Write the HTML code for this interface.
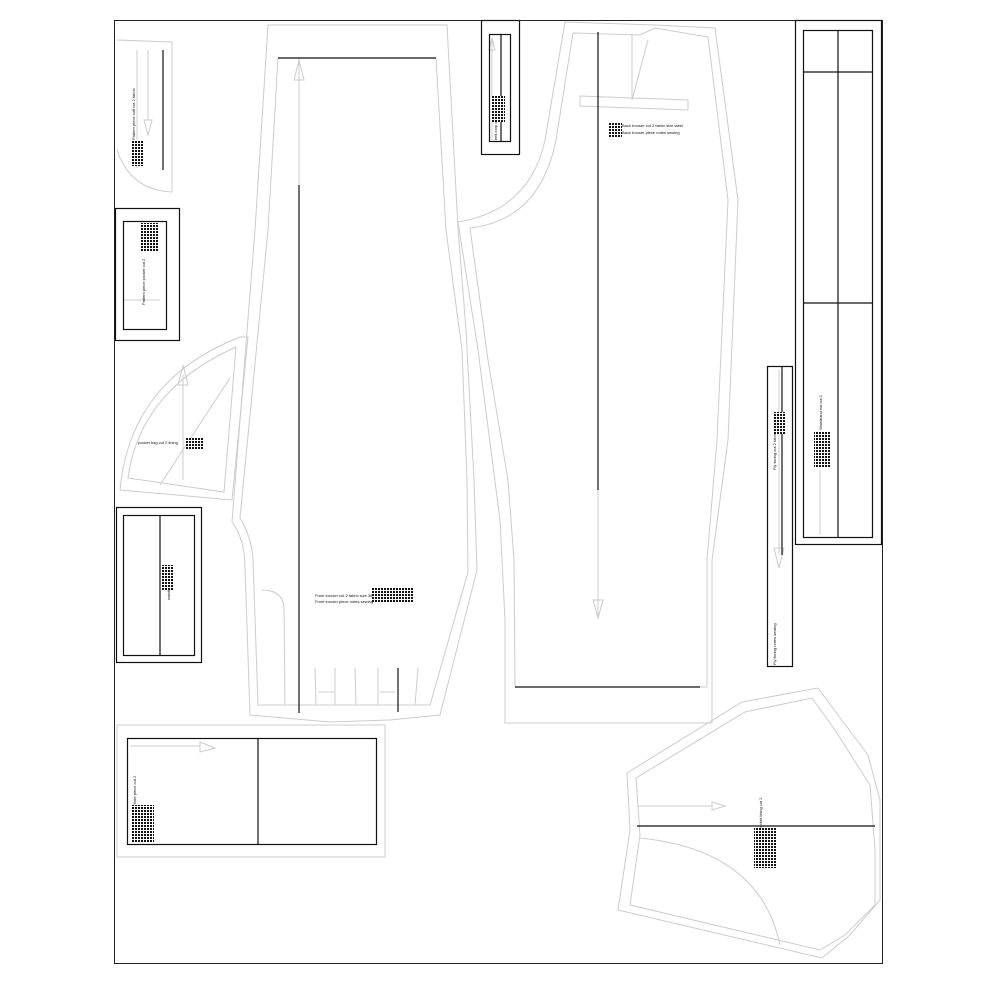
<!DOCTYPE html>
<html><head><meta charset="utf-8"><style>
html,body{margin:0;padding:0;background:#fff;width:1000px;height:983px;overflow:hidden}
svg{display:block}
text{font-family:"Liberation Sans",sans-serif;fill:#111}
</style></head><body>
<svg width="1000" height="983" viewBox="0 0 1000 983" xmlns="http://www.w3.org/2000/svg">
<defs>
<pattern id="spk" width="3" height="3" patternUnits="userSpaceOnUse">
<rect width="3" height="3" fill="#fff"/>
<rect width="2" height="2" fill="#111"/>
</pattern>
</defs>
<rect x="114.5" y="20.5" width="768" height="943" fill="none" stroke="#222" stroke-width="1"/>
<g fill="none" stroke="#ccc" stroke-width="1">
<path d="M117 40 L172 42 L172 192 Q130 190 117 150"/>
<path d="M137 50 L137 168"/>
<path d="M148 50 L148 120 M144 120 L148 135 L152 120 Z"/>
<path d="M120 490 Q130 380 240 337 L248 337 L232 500 L120 490"/>
<path d="M128 478 Q140 390 236 347 L224 492 Z" />
<path d="M183 480 L183 375 M178 385 L183 365 L188 385 Z"/>
<path d="M160 485 L230 378"/>
<path d="M268 25 L447 25 L458 228 L466 330 L474 480 L477 570 L440 715 L390 720 L330 722 L250 715 L245 567 Q245 540 232 522 L255 230 Z"/>
<path d="M278 58 L436 58 L446 230 L462 350 L467 480 L468 572 L430 705 L258 705 L253 560 Q252 538 240 518 L268 230 Z"/>
<path d="M299 58 L299 185 M294 80 L299 60 L304 80 Z"/>
<path d="M262 590 Q284 590 284 610 L285 705"/>
<path d="M315 668 L316 705 M335 668 L335 705 M355 668 L356 705 M378 668 L378 705 M418 668 L415 705"/>
<path d="M318 692 L334 692 M380 692 L395 692"/>
<path d="M565 22 L655 25 L715 28 L738 200 L728 440 L712 560 L712 723 L505 723 L505 620 L500 520 L478 350 L458 222 Q530 210 545 140 Z"/>
<path d="M573 33 L640 35 L655 28 L708 37 L728 200 L717 440 L707 560 L707 687 L515 687 L514 560 L508 480 L488 360 L470 228 Q540 220 556 140 Z"/>
<path d="M632 35 L632 100 L648 40"/>
<path d="M580 96 L688 100 L688 110 L580 106 Z"/>
<path d="M598 490 L598 618 M593 600 L598 618 L603 600 Z"/>
<rect x="117" y="725" width="268" height="132"/>
<path d="M130 746 L200 746 M200 742 L215 748 L200 752 Z"/>
<path d="M627 773 L742 702 L818 688 L838 715 L868 755 L880 800 L880 900 L850 935 L822 958 L618 910 L630 830 Z"/>
<path d="M636 778 L745 712 L812 698 L835 730 L870 785 L875 850 L875 905 L845 935 L820 950 L630 905 L640 835 Z"/>
<path d="M640 838 Q760 850 780 945"/>
<path d="M638 806 L712 806 M712 802 L725 806 L712 810 Z"/>
<path d="M779 370 L779 555 M774 548 L779 568 L784 548 Z"/>
<path d="M820 470 L820 535"/>
<path d="M492 38 L492 140 M489 50 L492 38 L495 50 Z"/>
<path d="M124 300 L160 300"/>
</g>
<g fill="none" stroke="#111" stroke-width="1.2">
<line x1="278" y1="58" x2="436" y2="58"/>
<line x1="299" y1="185" x2="299" y2="713"/>
<line x1="398" y1="668" x2="398" y2="712"/>
<line x1="598" y1="32" x2="598" y2="490"/>
<line x1="515" y1="687" x2="700" y2="687"/>
<line x1="163" y1="50" x2="163" y2="170"/>
<rect x="115.5" y="208.5" width="64" height="132"/>
<rect x="123.5" y="221.5" width="43" height="108"/>
<rect x="116.5" y="507.5" width="85" height="155"/>
<rect x="123.5" y="515.5" width="71" height="140"/>
<line x1="160" y1="515" x2="160" y2="655"/>
<rect x="481.5" y="20.5" width="38" height="134"/>
<rect x="489.5" y="34.5" width="21" height="107"/>
<line x1="501" y1="34" x2="501" y2="141"/>
<rect x="795.5" y="20.5" width="86" height="524"/>
<rect x="803.5" y="30.5" width="69" height="507"/>
<line x1="838" y1="30" x2="838" y2="537"/>
<line x1="803" y1="72" x2="873" y2="72"/>
<line x1="803" y1="303" x2="873" y2="303"/>
<rect x="767.5" y="366.5" width="25" height="300"/>
<line x1="782" y1="366" x2="782" y2="555"/>
<rect x="127.5" y="738.5" width="249" height="106"/>
<line x1="258" y1="738" x2="258" y2="845"/>
<line x1="637" y1="826" x2="875" y2="826"/>
</g>
<g font-size="4">
<text transform="translate(135,140) rotate(-90)">Pattern piece cuff cut 2 fabric</text>
<text transform="translate(145,305) rotate(-90)">Pattern piece pocket cut 2</text>
<text x="138" y="444">pocket bag cut 2 lining</text>
<text transform="translate(170,600) rotate(-90)">waistband cut 1</text>
<text transform="translate(497,140) rotate(-90)">belt loop cut 1</text>
<text x="622" y="127">Back trouser cut 2 fabric size label</text>
<text x="622" y="134">Back trouser piece notes sewing</text>
<text x="315" y="597">Front trouser cut 2 fabric size 38</text>
<text x="315" y="603">Front trouser piece notes sewing</text>
<text transform="translate(822,430) rotate(-90)">Waistband ext cut 1</text>
<text transform="translate(776,470) rotate(-90)">Fly facing cut 2 fabric</text>
<text transform="translate(776,665) rotate(-90)">Fly facing notes sewing</text>
<text transform="translate(136,805) rotate(-90)">Yoke piece cut 2</text>
<text transform="translate(762,830) rotate(-90)">Pocket lining cut 2</text>
</g>
<g fill="url(#spk)">
<rect x="132" y="140" width="12" height="26"/>
<rect x="140" y="223" width="18" height="28"/>
<rect x="186" y="438" width="18" height="12"/>
<rect x="162" y="565" width="12" height="25"/>
<rect x="491" y="96" width="14" height="26"/>
<rect x="608" y="123" width="14" height="14"/>
<rect x="372" y="588" width="42" height="14"/>
<rect x="773" y="412" width="12" height="22"/>
<rect x="814" y="432" width="16" height="35"/>
<rect x="132" y="805" width="22" height="37"/>
<rect x="754" y="828" width="22" height="40"/>
</g>
</svg>
</body></html>
